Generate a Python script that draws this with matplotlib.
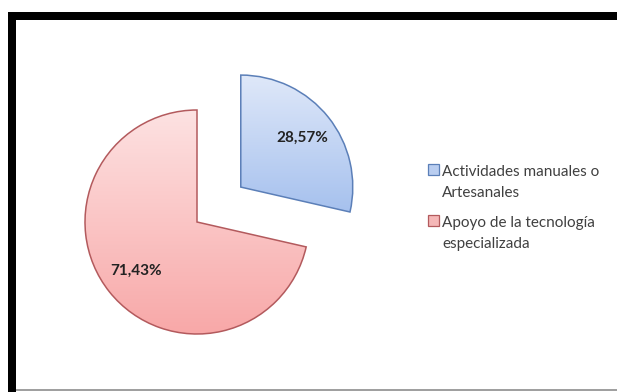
import numpy as np
import matplotlib.pyplot as plt
from matplotlib.patches import Rectangle
from matplotlib.colors import LinearSegmentedColormap

# data
categories = ["Actividades manuales o\nArtesanales", "Apoyo de la tecnología\nespecializada"]
values = [28.57, 71.43]
explode = [0.5, 0.0]

face_top = ["#dfe8f9", "#fde2e2"]
face_bottom = ["#a6c1ee", "#f8a8a8"]
edge_colors = ["#5b7fb8", "#b35a5d"]
legend_face = ["#b9cdf0", "#f5b7b7"]

W, H = 617, 392
fig = plt.figure(figsize=(W / 100, H / 100), dpi=100)
fig.patch.set_facecolor("white")


def fx(px):
    return px / W


def fy(py):
    return 1 - py / H


# frame: thick black on top and left, thin grey at bottom
fig.add_artist(Rectangle((fx(8), fy(20)), fx(617 - 8), 8 / H, transform=fig.transFigure,
                         facecolor="black", edgecolor="none"))
fig.add_artist(Rectangle((fx(8), 0), 8 / W, fy(12), transform=fig.transFigure,
                         facecolor="black", edgecolor="none"))
fig.add_artist(Rectangle((fx(16), fy(391)), fx(617 - 16), 2 / H, transform=fig.transFigure,
                         facecolor="#a0a0a0", edgecolor="none"))

# pie axes: centre of the pie at (197, 222) px, radius 112 px
cx, cy, R = 197, 222, 112
left, right, top, bottom = 30, 400, 30, 385
ax = fig.add_axes([fx(left), fy(bottom), fx(right - left), (bottom - top) / H])

wedges, texts, autotexts = ax.pie(
    values, explode=explode, startangle=90, counterclock=False,
    autopct=lambda p: f"{p:.2f}%".replace(".", ","), pctdistance=0.7,
    wedgeprops=dict(linewidth=1.1),
    textprops=dict(fontsize=11, fontweight="bold", color="#222222", family="Lato"),
)

# vertical gradient fill over each slice's own extent
grad = np.linspace(0, 1, 256).reshape(-1, 1)
for w, c0, c1, ec in zip(wedges, face_top, face_bottom, edge_colors):
    cmap = LinearSegmentedColormap.from_list("g", [c0, c1])
    bb = w.get_path().get_extents()
    im = ax.imshow(grad, cmap=cmap, extent=[bb.x0, bb.x1, bb.y0, bb.y1],
                   aspect="auto", zorder=0.5, origin="upper")
    im.set_clip_path(w)
    w.set_facecolor("none")
    w.set_edgecolor(ec)

ax.set_xlim((left - cx) / R, (right - cx) / R)
ax.set_ylim((cy - bottom) / R, (cy - top) / R)
ax.set_aspect("auto")
ax.axis("off")

# legend
baselines = [176, 227]
for label, fc, ec, base in zip(categories, legend_face, edge_colors, baselines):
    fig.add_artist(Rectangle((fx(428), fy(base - 1)), 11 / W, 11 / H, transform=fig.transFigure,
                             facecolor=fc, edgecolor=ec, linewidth=0.9))
    for i, line in enumerate(label.split("\n")):
        fig.text(fx(442), fy(base + 21 * i), line, fontsize=11, family="Lato",
                 color="#404040", va="baseline", ha="left")

fig.savefig("out.png", dpi=100)
